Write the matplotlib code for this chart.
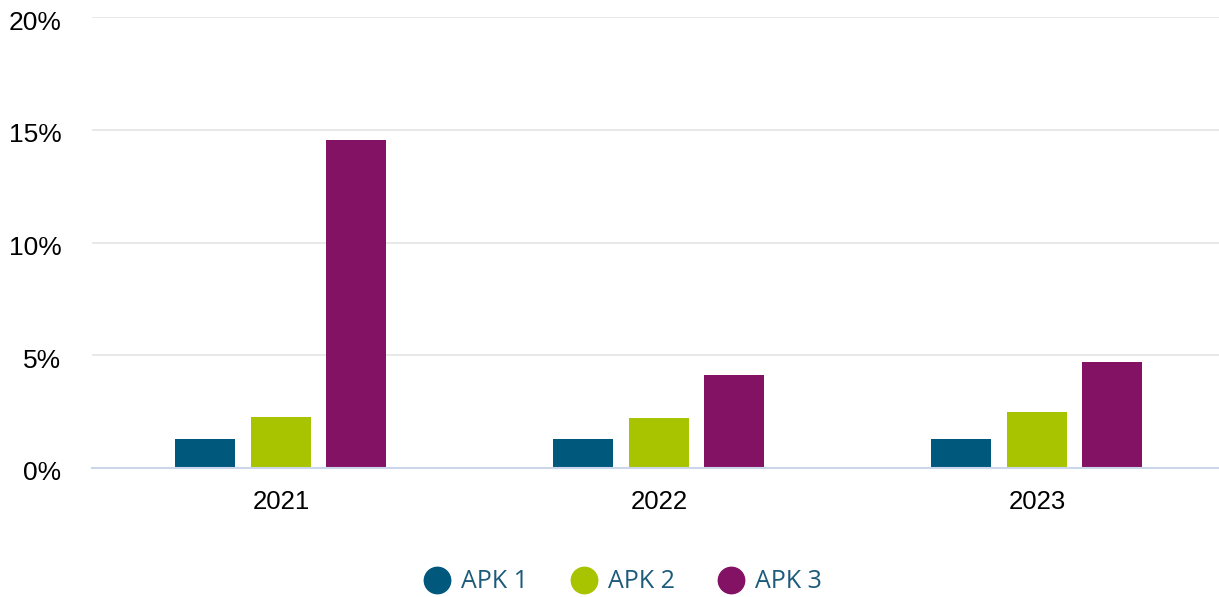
import numpy as np
import matplotlib.pyplot as plt
import matplotlib.transforms as mtrans
from matplotlib.lines import Line2D

years = ['2021', '2022', '2023']
series = ['APK 1', 'APK 2', 'APK 3']
apk1 = [1.27, 1.27, 1.27]
apk2 = [2.24, 2.23, 2.50]
apk3 = [14.55, 4.11, 4.71]
colors = ['#00587c', '#a8c300', '#831264']
yticks = [0, 5, 10, 15, 20]

fig = plt.figure(figsize=(12.19, 5.97), dpi=100)
ax = fig.add_axes([92/1219, 1-468/597, 1134/1219, (468-17)/597])

x = np.arange(len(years))
w = 0.159
offs = [-0.2, 0, 0.198]
for vals, c, o in zip([apk1, apk2, apk3], colors, offs):
    ax.bar(x + o, vals, width=w, color=c, zorder=3)

ax.set_xlim(-0.5, 2.5)
ax.set_ylim(0, 20)
ax.set_yticks(yticks)
ax.set_yticklabels([f'{t}%' for t in yticks], fontsize=19, fontfamily='Liberation Sans')
ax.set_xticks(x)
ax.set_xticklabels(years, fontsize=18.5, fontfamily='Liberation Sans')
ax.tick_params(axis='y', length=0, pad=22)
ax.tick_params(axis='x', length=0, pad=16)
# labels sit a few px below their gridline in the original
shift = mtrans.ScaledTranslation(0, -3/100, fig.dpi_scale_trans)
for lab in ax.get_yticklabels():
    lab.set_verticalalignment('center_baseline')
    lab.set_transform(lab.get_transform() + shift)
ax.grid(axis='y', color='#e6e6e6', linewidth=1.3, zorder=0)
for s in ['top', 'right', 'left']:
    ax.spines[s].set_visible(False)
ax.spines['bottom'].set_color('#ccd6eb')
ax.spines['bottom'].set_linewidth(1.5)
ax.spines['bottom'].set_zorder(4)

handles = [Line2D([], [], marker='o', linestyle='none', markersize=19,
                  markerfacecolor=c, markeredgecolor=c) for c in colors]
leg = fig.legend(handles, series, loc='center', bbox_to_anchor=(623/1219, 1-582/597),
                 ncol=3, frameon=False, handlelength=1.0, handletextpad=0.45,
                 columnspacing=1.75, prop={'family': 'Open Sans', 'size': 18})
for t in leg.get_texts():
    t.set_color('#1d5b7b')

fig.savefig('out.png', dpi=100)
